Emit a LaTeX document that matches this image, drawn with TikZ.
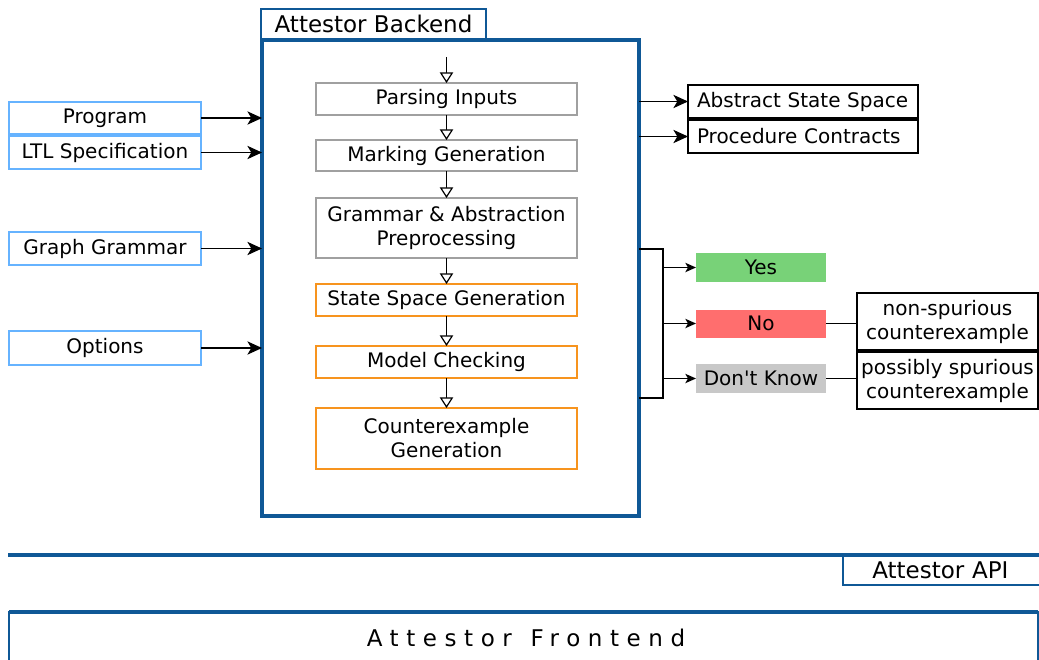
\documentclass[tikz,border=0pt]{standalone}
\usepackage{fontspec}
\setmainfont{DejaVu Sans}
\usetikzlibrary{arrows.meta,calc}
\definecolor{abblue}{RGB}{15,88,150}
\definecolor{inblue}{RGB}{102,179,255}
\definecolor{aborange}{RGB}{247,148,30}
\definecolor{abgray}{RGB}{160,160,160}
\definecolor{yesgreen}{RGB}{120,210,120}
\definecolor{nored}{RGB}{255,110,110}
\definecolor{dkgray}{RGB}{200,200,200}
\begin{document}
\begin{tikzpicture}[x=0.75pt,y=-0.75pt,
  every node/.style={font=\fontsize{15pt}{18pt}\selectfont, inner sep=0pt, outer sep=0pt, align=center},
  stagebox/.style={draw=abgray, line width=1.5pt, fill=white, minimum width=195.75pt},
  orangebox/.style={draw=aborange, line width=1.5pt, fill=white, minimum width=195.75pt},
  inbox/.style={draw=inblue, line width=1.2pt, minimum width=144pt},
  outbox/.style={draw=black, line width=1pt},
  resbox/.style={minimum width=97.5pt},
  inarrow/.style={line width=0.9pt, -{Stealth[length=11pt,width=10pt,inset=3pt]}},
  stagearrow/.style={line width=0.9pt, -{Triangle[open,length=8pt,width=10pt,fill=white]}},
  smallarrow/.style={line width=0.9pt, -{Stealth[length=8pt,width=7pt,inset=2pt]}},
  plainline/.style={line width=0.9pt}
]
\useasboundingbox (0,0) rectangle (1039,660);

% Backend
\node[draw=abblue, line width=1.6pt, minimum width=168.75pt, minimum height=22.5pt,
  font=\fontsize{17.25pt}{20pt}\selectfont] (title) at (373.5,24) {Attestor Backend};
\node[draw=abblue, line width=2.7pt, minimum width=282.75pt, minimum height=357pt] (back) at (450.5,278) {};

\coordinate (topin) at (446.5,57);
\node[stagebox, minimum height=24pt] (parse) at (446.5,99) {Parsing Inputs};
\node[stagebox, minimum height=23.25pt] (mark) at (446.5,155.5) {Marking Generation};
\node[stagebox, minimum height=45pt] (gram) at (446.5,228) {Grammar \& Abstraction\\Preprocessing};
\node[orangebox, minimum height=24pt] (state) at (446.5,300) {State Space Generation};
\node[orangebox, minimum height=24pt] (model) at (446.5,362) {Model Checking};
\node[orangebox, minimum height=45.75pt] (cex) at (446.5,438.5) {Counterexample\\Generation};

\draw[stagearrow] (topin) -- (parse.north);
\draw[stagearrow] (parse) -- (mark);
\draw[stagearrow] (mark) -- (gram);
\draw[stagearrow] (gram) -- (state);
\draw[stagearrow] (state) -- (model);
\draw[stagearrow] (model) -- (cex);

% Inputs
\node[inbox, minimum height=24pt] (prog) at (105,118) {Program};
\node[inbox, minimum height=24.75pt] (ltl) at (105,152.5) {LTL Specification};
\node[inbox, minimum height=24.75pt] (gg) at (105,248.5) {Graph Grammar};
\node[inbox, minimum height=25.5pt] (opt) at (105,348) {Options};
\foreach \n in {prog,ltl,gg,opt}{
  \draw[inarrow] (\n.east) -- (\n.east -| back.west);
}

% Outputs
\node[outbox, text width=159pt, inner xsep=6.75pt, align=left, minimum height=24.75pt] (ass) at (803,101.5) {Abstract State Space};
\node[outbox, text width=159pt, inner xsep=6.75pt, align=left, minimum height=24.75pt] (pc) at (803,136.5) {Procedure Contracts};
\draw[inarrow] (ass.west -| back.east) -- (ass.west);
\draw[inarrow] (pc.west -| back.east) -- (pc.west);

% Results
\node[resbox, fill=yesgreen, minimum height=21.75pt] (yes) at (761,267.5) {Yes};
\node[resbox, fill=nored, minimum height=21pt] (no) at (761,323.5) {No};
\node[resbox, fill=dkgray, minimum height=21.75pt] (dk) at (761,378.5) {Don\textquotesingle t Know};
\coordinate (brt) at (663,249);
\coordinate (brb) at (663,398);
\draw[plainline] (brt -| back.east) -- (brt) -- (brb) -- (brb -| back.east);
\foreach \n in {yes,no,dk}{
  \draw[smallarrow] (\n.west -| brt) -- (\n.west);
}
\node[outbox, minimum width=135.75pt, minimum height=42.75pt] (ns) at (947.5,321.5) {non-spurious\\counterexample};
\node[outbox, minimum width=135.75pt, minimum height=42.75pt] (ps) at (947.5,380.5) {possibly spurious\\counterexample};
\draw[plainline] (no.east) -- (no.east -| ns.west);
\draw[plainline] (dk.east) -- (dk.east -| ps.west);

% API
\coordinate (apil) at (8,555);
\coordinate (apir) at (1045,555);
\draw[draw=abblue, line width=2.8pt] (apil) -- (apir);
\node[draw=abblue, line width=1.5pt, minimum width=148.5pt, minimum height=22.5pt, anchor=north west,
  font=\fontsize{17.25pt}{20pt}\selectfont, inner xsep=22pt, align=left, text width=104.5pt] (api) at (843,555) {Attestor API};

% Frontend
\node[draw=abblue, line width=1.5pt, minimum width=771.75pt, minimum height=45pt, anchor=north west] (front) at (9,612) {};
\draw[draw=abblue, line width=2.8pt] (front.north west) -- (front.north east);
\node[font=\fontsize{17.25pt}{20pt}\selectfont\addfontfeature{LetterSpace=33}] (ftext) at (526,638) {Attestor\hspace{14pt}Frontend};
\end{tikzpicture}
\end{document}
